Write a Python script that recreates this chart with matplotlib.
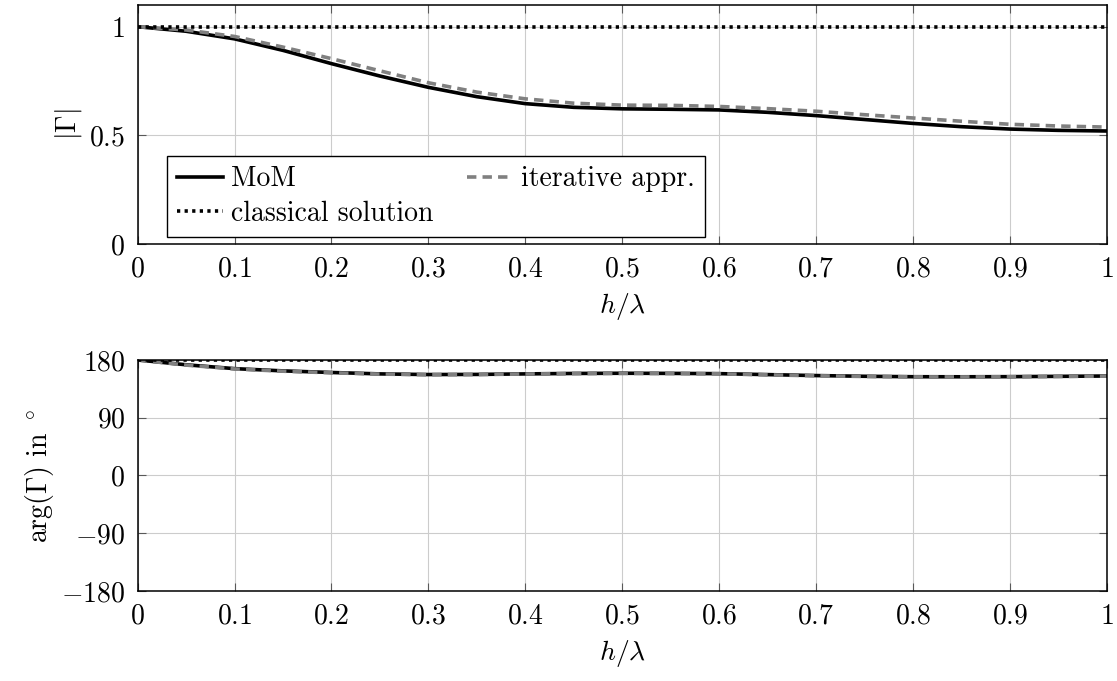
import matplotlib
matplotlib.use('Agg')
import matplotlib.pyplot as plt
from matplotlib.ticker import FuncFormatter

plt.rcParams['font.family'] = 'serif'
plt.rcParams['font.serif'] = ['cmr10']
plt.rcParams['mathtext.fontset'] = 'cm'
plt.rcParams['axes.formatter.use_mathtext'] = True

# h/lambda sample points
h = [0.0, 0.05, 0.1, 0.15, 0.2, 0.25, 0.3, 0.35, 0.4, 0.45, 0.5,
     0.55, 0.6, 0.65, 0.7, 0.75, 0.8, 0.85, 0.9, 0.95, 1.0]

# |Gamma|
mag_mom = [1.0, 0.979, 0.944, 0.891, 0.830, 0.773, 0.721, 0.678, 0.646, 0.629, 0.622,
           0.620, 0.617, 0.606, 0.591, 0.573, 0.555, 0.540, 0.529, 0.523, 0.520]
mag_iter = [1.0, 0.985, 0.955, 0.906, 0.853, 0.797, 0.742, 0.699, 0.668, 0.648, 0.639,
            0.638, 0.633, 0.623, 0.611, 0.595, 0.580, 0.565, 0.551, 0.543, 0.538]
mag_classic = [1.0] * len(h)

# arg(Gamma) in degrees
arg_mom = [180.0, 172.5, 166.5, 163.0, 160.5, 158.3, 157.3, 157.5, 158.3, 159.0, 159.3,
           159.1, 158.7, 157.2, 155.7, 154.6, 153.9, 153.8, 154.0, 154.5, 155.0]
arg_iter = [180.0, 172.0, 166.0, 162.5, 160.0, 158.0, 157.0, 157.3, 158.1, 158.8, 159.1,
            158.9, 158.4, 156.8, 155.4, 154.3, 153.7, 153.6, 153.8, 154.3, 154.8]
arg_classic = [180.0] * len(h)

xticks = [0, 0.1, 0.2, 0.3, 0.4, 0.5, 0.6, 0.7, 0.8, 0.9, 1]
mag_ticks = [0, 0.5, 1]
arg_ticks = [-180, -90, 0, 90, 180]

fs = 20
fig = plt.figure(figsize=(11.17, 6.81), dpi=100)
ax1 = fig.add_axes([0.1233, 0.6417, 0.8673, 0.3510])
ax2 = fig.add_axes([0.1233, 0.1322, 0.8673, 0.3392])

fmt = FuncFormatter(lambda v, p: r'$%g$' % v)

def style(ax):
    ax.set_xlim(0, 1)
    ax.set_xticks(xticks)
    ax.xaxis.set_major_formatter(fmt)
    ax.yaxis.set_major_formatter(fmt)
    ax.grid(True, color='#cccccc', linewidth=0.8)
    ax.set_axisbelow(True)
    ax.tick_params(direction='in', top=True, right=True, length=6, width=0.8,
                   color='0.35', labelsize=fs, pad=9)
    for s in ax.spines.values():
        s.set_linewidth(1.1)
    ax.set_xlabel(r'$h/\lambda$', fontsize=fs, labelpad=6)

lw = 2.6
l1, = ax1.plot(h, mag_mom, color='black', lw=lw, label='MoM')
l2, = ax1.plot(h, mag_iter, color='#808080', lw=lw, dashes=(2.6, 1.7), label='iterative appr.')
l3, = ax1.plot(h, mag_classic, color='black', lw=lw, dashes=(0.9, 1.2), label='classical solution')
ax1.set_ylim(0, 1.1)
ax1.set_yticks(mag_ticks)
style(ax1)
ax1.set_ylabel(r'$|\Gamma|$', fontsize=fs)

ax2.plot(h, arg_mom, color='black', lw=lw)
ax2.plot(h, arg_iter, color='#808080', lw=lw, dashes=(2.6, 1.7))
ax2.plot(h, arg_classic, color='black', lw=lw, dashes=(0.9, 1.2))
ax2.set_ylim(-180, 180)
ax2.set_yticks(arg_ticks)
style(ax2)
ax2.set_ylabel(r'$\arg(\Gamma)$ in $^\circ$', fontsize=fs)

leg = ax1.legend(handles=[l1, l3, l2], ncol=2, fontsize=fs, loc='lower left',
                 bbox_to_anchor=(0.0306, 0.030), borderaxespad=0, fancybox=False,
                 framealpha=1, edgecolor='black', handlelength=1.65, handletextpad=0.3,
                 borderpad=0.35, labelspacing=0.3, columnspacing=1.2)
leg.get_frame().set_linewidth(1.0)

fig.savefig('out.png', dpi=100)
